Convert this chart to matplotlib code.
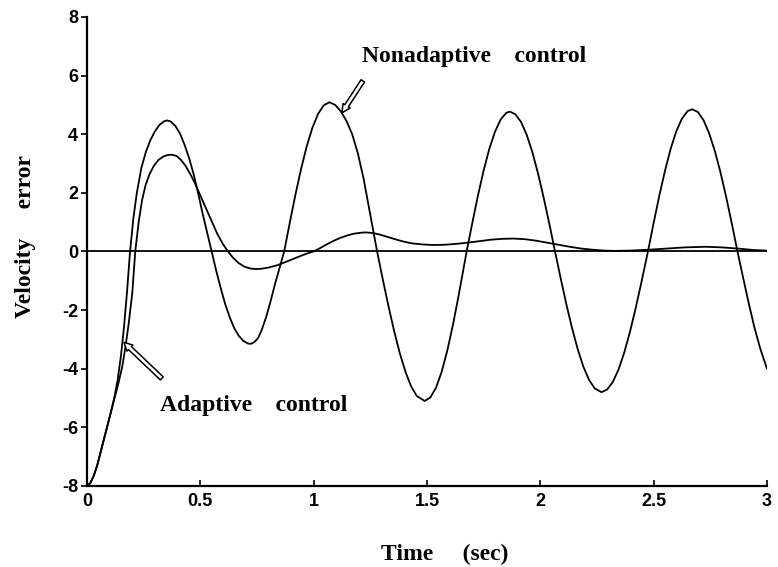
import matplotlib
matplotlib.use("Agg")
import matplotlib.pyplot as plt
from matplotlib.patches import FancyArrowPatch

plt.rcParams['axes.unicode_minus'] = False

# velocity error, nonadaptive controller
t_non = [0.000, 0.015, 0.030, 0.045, 0.060, 0.075, 0.090, 0.105, 0.120, 0.135,
         0.150, 0.163, 0.177, 0.190, 0.205, 0.220, 0.240, 0.260, 0.280, 0.300,
         0.320, 0.340, 0.353, 0.370, 0.390, 0.410, 0.430, 0.450, 0.470, 0.490,
         0.510, 0.530, 0.550, 0.570, 0.590, 0.610, 0.630, 0.650, 0.670, 0.690,
         0.710, 0.725, 0.740, 0.755, 0.770, 0.790, 0.810, 0.830, 0.850, 0.870,
         0.895, 0.920, 0.945, 0.970, 0.995, 1.020, 1.045, 1.070, 1.095, 1.120,
         1.145, 1.170, 1.195, 1.220, 1.245, 1.280, 1.305, 1.330, 1.355, 1.380,
         1.405, 1.430, 1.455, 1.490, 1.515, 1.540, 1.565, 1.590, 1.615, 1.640,
         1.655, 1.675, 1.700, 1.725, 1.750, 1.775, 1.800, 1.825, 1.850, 1.866,
         1.890, 1.915, 1.940, 1.965, 1.990, 2.015, 2.040, 2.065, 2.090, 2.115,
         2.140, 2.165, 2.190, 2.215, 2.240, 2.270, 2.295, 2.320, 2.345, 2.370,
         2.395, 2.420, 2.445, 2.475, 2.500, 2.525, 2.550, 2.575, 2.600, 2.625,
         2.650, 2.670, 2.695, 2.720, 2.745, 2.770, 2.795, 2.820, 2.845, 2.870,
         2.895, 2.920, 2.945, 2.970, 3.000]
v_non = [-8.00, -7.90, -7.65, -7.30, -6.85, -6.40, -5.95, -5.50, -5.00, -4.40,
         -3.55, -2.60, -1.35, 0.00, 1.15, 2.00, 2.85, 3.40, 3.80, 4.10,
         4.32, 4.44, 4.47, 4.43, 4.28, 4.03, 3.65, 3.20, 2.65, 2.00,
         1.30, 0.65, 0.00, -0.65, -1.25, -1.80, -2.25, -2.62, -2.88, -3.05,
         -3.14, -3.15, -3.08, -2.95, -2.70, -2.25, -1.70, -1.10, -0.55, 0.00,
         0.99, 1.95, 2.83, 3.60, 4.23, 4.70, 4.99, 5.09, 5.00, 4.78,
         4.45, 4.00, 3.35, 2.50, 1.45, 0.00, -0.95, -1.86, -2.71, -3.47,
         -4.10, -4.60, -4.93, -5.10, -4.98, -4.65, -4.10, -3.37, -2.49, -1.49,
         -0.86, 0.00, 0.97, 1.91, 2.76, 3.50, 4.08, 4.50, 4.73, 4.77,
         4.68, 4.42, 3.98, 3.39, 2.66, 1.83, 0.94, 0.00, -0.92, -1.80,
         -2.61, -3.33, -3.93, -4.38, -4.67, -4.80, -4.71, -4.45, -4.03, -3.46,
         -2.76, -1.96, -1.09, 0.00, 0.97, 1.90, 2.75, 3.50, 4.10, 4.53,
         4.79, 4.85, 4.76, 4.48, 4.03, 3.43, 2.70, 1.86, 0.95, 0.00,
         -0.90, -1.78, -2.60, -3.30, -4.00]

# velocity error, adaptive controller
t_ada = [0.000, 0.015, 0.030, 0.045, 0.060, 0.075, 0.090, 0.105, 0.120, 0.137,
         0.155, 0.170, 0.185, 0.200, 0.213, 0.228, 0.243, 0.258, 0.275, 0.295,
         0.315, 0.335, 0.355, 0.374, 0.395, 0.415, 0.435, 0.455, 0.475, 0.495,
         0.515, 0.535, 0.555, 0.575, 0.600, 0.622, 0.645, 0.670, 0.695, 0.720,
         0.745, 0.770, 0.800, 0.835, 0.870, 0.905, 0.940, 0.970, 1.000, 1.030,
         1.060, 1.090, 1.120, 1.150, 1.180, 1.210, 1.230, 1.260, 1.290, 1.320,
         1.350, 1.390, 1.430, 1.480, 1.530, 1.580, 1.630, 1.680, 1.730, 1.780,
         1.830, 1.880, 1.930, 1.980, 2.030, 2.080, 2.130, 2.180, 2.230, 2.280,
         2.330, 2.400, 2.480, 2.560, 2.640, 2.730, 2.800, 2.870, 2.940, 3.000]
v_ada = [-8.00, -7.90, -7.65, -7.30, -6.85, -6.40, -5.95, -5.50, -5.05, -4.55,
         -3.95, -3.25, -2.40, -1.40, 0.00, 1.00, 1.75, 2.25, 2.62, 2.92,
         3.12, 3.23, 3.29, 3.30, 3.26, 3.12, 2.92, 2.65, 2.35, 2.00,
         1.65, 1.30, 0.95, 0.60, 0.25, 0.00, -0.22, -0.40, -0.52, -0.58,
         -0.60, -0.59, -0.55, -0.48, -0.38, -0.27, -0.16, -0.07, 0.00, 0.12,
         0.25, 0.37, 0.47, 0.55, 0.61, 0.64, 0.65, 0.63, 0.58, 0.51,
         0.44, 0.35, 0.28, 0.24, 0.22, 0.23, 0.26, 0.30, 0.35, 0.40,
         0.43, 0.44, 0.42, 0.37, 0.30, 0.23, 0.16, 0.10, 0.06, 0.03,
         0.02, 0.03, 0.06, 0.10, 0.14, 0.16, 0.14, 0.10, 0.05, 0.03]

x_ticks = [0, 0.5, 1, 1.5, 2, 2.5, 3]
x_ticklabels = ['0', '0.5', '1', '1.5', '2', '2.5', '3']
y_ticks = [-8, -6, -4, -2, 0, 2, 4, 6, 8]
y_ticklabels = ['-8', '-6', '-4', '-2', '0', '2', '4', '6', '8']

serif = 'Liberation Serif'
sans = 'Liberation Sans'

fig = plt.figure(figsize=(7.78, 5.67), dpi=100)
ax = fig.add_axes([0.1118, 0.1429, 0.874, 0.8272])

ax.plot(t_non, v_non, color='black', lw=1.3)
ax.plot(t_ada, v_ada, color='black', lw=1.3)
ax.axhline(0, color='black', lw=1.3)

ax.set_xlim(0, 3)
ax.set_ylim(-8, 8)
ax.spines['top'].set_visible(False)
ax.spines['right'].set_visible(False)
ax.spines['left'].set_linewidth(1.6)
ax.spines['bottom'].set_linewidth(1.6)

ax.set_xticks(x_ticks)
ax.set_xticklabels(x_ticklabels)
ax.set_yticks(y_ticks)
ax.set_yticklabels(y_ticklabels)
ax.tick_params(axis='x', direction='in', length=4, width=1.2, pad=5)
ax.tick_params(axis='y', direction='out', length=4.5, width=1.2, pad=2)
for lbl in ax.get_xticklabels() + ax.get_yticklabels():
    lbl.set_fontfamily(sans)
    lbl.set_fontweight('bold')
    lbl.set_fontsize(13)

# axis titles
ax.text(0.526, -0.158, 'Time     (sec)', transform=ax.transAxes,
        ha='center', va='baseline', fontsize=17, fontweight='bold', family=serif)
ax.text(-0.09, 0.532, 'Velocity     error', transform=ax.transAxes, rotation=90,
        ha='center', va='center', fontsize=17, fontweight='bold', family=serif)

# curve labels with hollow arrows
ax.text(1.213, 6.45, 'Nonadaptive    control', ha='left', va='baseline',
        fontsize=17, fontweight='bold', family=serif)
ax.text(0.322, -5.43, 'Adaptive    control', ha='left', va='baseline',
        fontsize=17, fontweight='bold', family=serif)

arrow_style = 'simple,head_length=6,head_width=6,tail_width=3'
for tail, tip in [((1.217, 5.82), (1.125, 4.73)), ((0.33, -4.33), (0.163, -3.1))]:
    arr = FancyArrowPatch(tail, tip, arrowstyle=arrow_style, mutation_scale=1,
                          shrinkA=0, shrinkB=0, facecolor='white',
                          edgecolor='black', lw=1.1, zorder=5)
    ax.add_patch(arr)

fig.savefig('out.png', dpi=100)
